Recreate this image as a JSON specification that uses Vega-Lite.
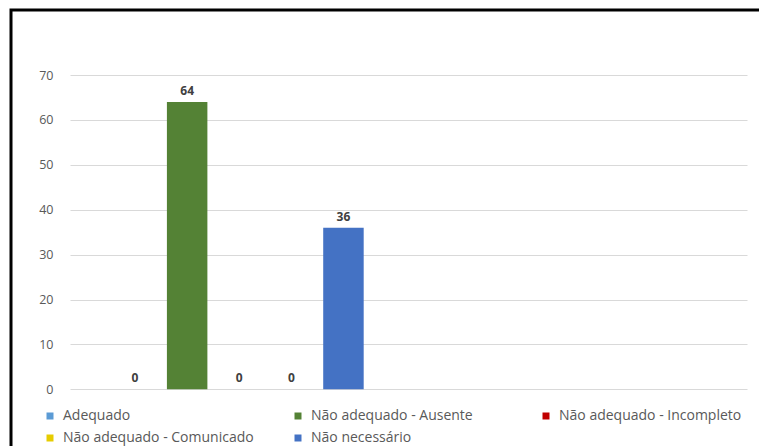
{
  "$schema": "https://vega.github.io/schema/vega-lite/v6.json",
  "width": 760,
  "height": 446,
  "autosize": {"type": "none"},
  "padding": {"left": 11, "top": 10, "right": -12, "bottom": -10},
  "background": "#ffffff",
  "config": {
    "font": "Open Sans",
    "view": {"stroke": "#000000", "strokeWidth": 3}
  },
  "data": {
    "values": [
      {"grupo": "1", "situacao": "Adequado", "quantidade": 0},
      {"grupo": "1", "situacao": "Não adequado - Ausente", "quantidade": 64},
      {"grupo": "1", "situacao": "Não adequado - Incompleto", "quantidade": 0},
      {"grupo": "1", "situacao": "Não adequado - Comunicado", "quantidade": 0},
      {"grupo": "1", "situacao": "Não necessário", "quantidade": 36}
    ]
  },
  "encoding": {
    "x": {
      "field": "grupo",
      "type": "nominal",
      "axis": null,
      "scale": {"domain": ["1", "2"], "range": [59, 736], "paddingInner": 0, "paddingOuter": 0}
    },
    "xOffset": {
      "field": "situacao",
      "type": "nominal",
      "sort": null,
      "scale": {"paddingInner": 0.223, "paddingOuter": 0.86, "align": 0.5}
    },
    "y": {
      "field": "quantidade",
      "type": "quantitative",
      "scale": {"domain": [0, 70], "range": [379.3, 65], "nice": false},
      "axis": {
        "title": null,
        "values": [0, 10, 20, 30, 40, 50, 60, 70],
        "domain": false,
        "ticks": false,
        "tickSize": 0,
        "labelPadding": -42,
        "labelFont": "Open Sans",
        "labelFontSize": 12.5,
        "labelColor": "#595959",
        "gridColor": "#D9D9D9",
        "gridWidth": 1
      }
    }
  },
  "layer": [
    {
      "mark": {"type": "bar"},
      "encoding": {
        "color": {
          "field": "situacao",
          "type": "nominal",
          "scale": {
            "domain": ["Adequado", "Não adequado - Ausente", "Não adequado - Incompleto", "Não adequado - Comunicado", "Não necessário"],
            "range": ["#5B9BD5", "#548235", "#C00000", "#E6CC00", "#4472C4"]
          },
          "legend": {
            "orient": "none",
            "legendX": 32,
            "legendY": 399,
            "title": null,
            "columns": 3,
            "direction": "horizontal",
            "gridAlign": "all",
            "columnPadding": 37,
            "rowPadding": 8,
            "padding": 0,
            "symbolType": "square",
            "symbolSize": 49,
            "symbolStrokeWidth": 0,
            "labelOffset": 6,
            "labelLimit": 300,
            "labelFont": "Open Sans",
            "labelFontSize": 14,
            "labelColor": "#595959"
          }
        }
      }
    },
    {
      "mark": {"type": "text", "baseline": "bottom", "dy": -4, "font": "Open Sans", "fontWeight": "bold", "fontSize": 12, "color": "#404040"},
      "encoding": {"text": {"field": "quantidade", "type": "quantitative"}}
    }
  ]
}
